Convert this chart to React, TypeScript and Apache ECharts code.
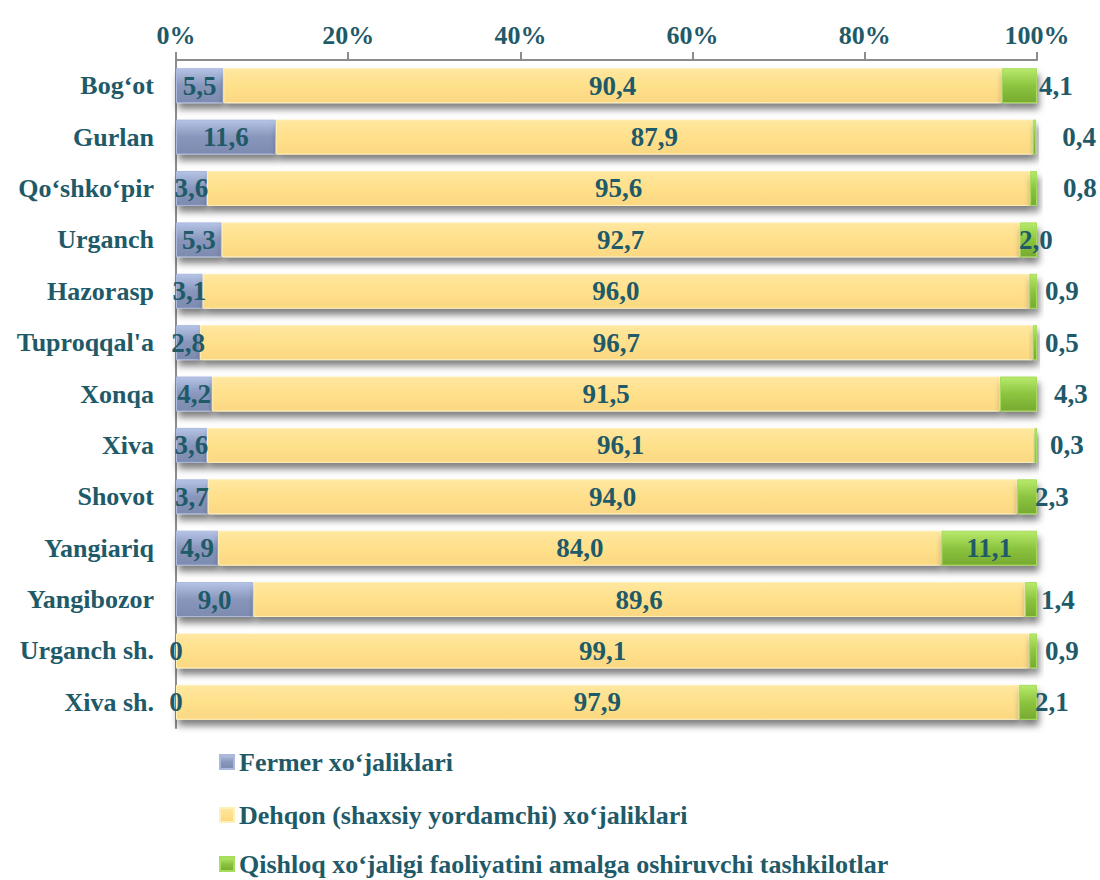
import React, { useEffect, useRef } from "react";
import * as echarts from "echarts";

const categories = [
  "Bog‘ot", "Gurlan", "Qo‘shko‘pir", "Urganch", "Hazorasp", "Tuproqqal'a",
  "Xonqa", "Xiva", "Shovot", "Yangiariq", "Yangibozor", "Urganch sh.", "Xiva sh.",
];
const fermer = [5.5, 11.6, 3.6, 5.3, 3.1, 2.8, 4.2, 3.6, 3.7, 4.9, 9.0, 0, 0];
const dehqon = [90.4, 87.9, 95.6, 92.7, 96.0, 96.7, 91.5, 96.1, 94.0, 84.0, 89.6, 99.1, 97.9];
const tashkilot = [4.1, 0.4, 0.8, 2.0, 0.9, 0.5, 4.3, 0.3, 2.3, 11.1, 1.4, 0.9, 2.1];
const seriesNames = [
  "Fermer xo‘jaliklari",
  "Dehqon (shaxsiy yordamchi) xo‘jaliklari",
  "Qishloq xo‘jaligi faoliyatini amalga oshiruvchi tashkilotlar",
];
const xTicks = [0, 20, 40, 60, 80, 100];

// label placement tweaks for the green series (distance to the right of bar end)
const greenLabelDistance = [2, 26, 26, -18, 8, 8, 17, 13, -2, 0, 4, 8, -2];
const legendTops = [744, 797, 846];

const TEXT = "#1F5A69";
const FONT = "Liberation Serif";

const fmt = (v: number) => (v === 0 ? "0" : v.toFixed(1).replace(".", ","));

export default function App() {
  const ref = useRef<HTMLDivElement>(null);
  useEffect(() => {
    document.body.style.margin = "0";
    const chart = echarts.init(ref.current!, null, { renderer: "svg" });
    const vgrad = (a: string, b: string, c: string) =>
      new echarts.graphic.LinearGradient(0, 0, 0, 1, [
        { offset: 0, color: a },
        { offset: 0.5, color: b },
        { offset: 1, color: c },
      ]);
    const shadow = {
      shadowColor: "rgba(0,0,0,0.5)",
      shadowBlur: 7,
      shadowOffsetX: 2,
      shadowOffsetY: 6,
    };
    const labelBase = {
      show: true,
      color: TEXT,
      fontFamily: FONT,
      fontWeight: "bold" as const,
      fontSize: 27,
      formatter: (p: any) => fmt(p.value),
    };
    const legendText = { color: TEXT, fontFamily: FONT, fontWeight: "bold", fontSize: 26 };
    const option: any = {
      animation: false,
      backgroundColor: "#ffffff",
      textStyle: { fontFamily: FONT },
      grid: { left: 176, right: 63, top: 60, bottom: 152, containLabel: false },
      xAxis: {
        type: "value",
        position: "top",
        min: xTicks[0],
        max: xTicks[xTicks.length - 1],
        interval: 20,
        axisLine: { show: true, lineStyle: { color: "#8c8c8c", width: 2 } },
        axisTick: { show: true, length: 8, lineStyle: { color: "#8c8c8c", width: 2 } },
        splitLine: { show: false },
        axisLabel: {
          formatter: "{value}%",
          color: TEXT,
          fontFamily: FONT,
          fontWeight: "bold",
          fontSize: 26,
          margin: 12,
        },
      },
      yAxis: {
        type: "category",
        inverse: true,
        data: categories,
        axisLine: { show: true, lineStyle: { color: "#8c8c8c", width: 2 } },
        axisTick: { show: false },
        axisLabel: {
          color: TEXT,
          fontFamily: FONT,
          fontWeight: "bold",
          fontSize: 26,
          margin: 22,
        },
      },
      legend: seriesNames.map((n, i) => ({
        orient: "vertical",
        left: 214,
        top: legendTops[i],
        itemWidth: 14,
        itemHeight: 14,
        itemGap: 4,
        icon: "rect",
        textStyle: legendText,
        data: [n],
      })),
      series: [
        {
          name: seriesNames[0],
          type: "bar",
          stack: "all",
          barWidth: "68%",
          data: fermer,
          itemStyle: {
            color: vgrad("#b4c3e6", "#8896bb", "#7d8bb0"),
            borderColor: "#aab9dd",
            borderWidth: 1,
            ...shadow,
          },
          label: { ...labelBase, position: "inside" },
        },
        {
          name: seriesNames[1],
          type: "bar",
          stack: "all",
          data: dehqon,
          itemStyle: {
            color: vgrad("#ffe79f", "#ffe08b", "#fbd882"),
            borderColor: "#fff0b8",
            borderWidth: 1,
            ...shadow,
          },
          label: { ...labelBase, position: "inside" },
        },
        {
          name: seriesNames[2],
          type: "bar",
          stack: "all",
          data: tashkilot.map((v, i) => ({
            value: v,
            label:
              v > 8
                ? { position: "inside" }
                : { position: "right", distance: greenLabelDistance[i] },
          })),
          itemStyle: {
            color: vgrad("#b8ea6c", "#8cc43f", "#77aa30"),
            borderColor: "#a8dc5c",
            borderWidth: 1,
            ...shadow,
          },
          label: { ...labelBase, position: "right" },
        },
      ],
    };
    chart.setOption(option);
    return () => chart.dispose();
  }, []);
  return <div ref={ref} style={{ width: 1100, height: 880 }} />;
}
